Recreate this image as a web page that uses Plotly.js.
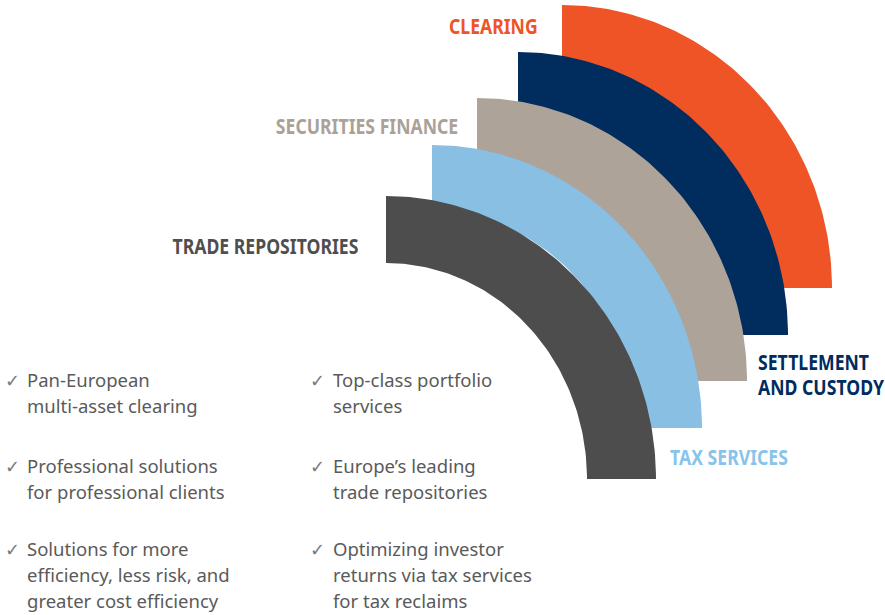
<!DOCTYPE html>
<html>
<head>
<meta charset="utf-8">
<script src="https://cdn.plot.ly/plotly-3.0.1.min.js"></script>
<style>
html,body{margin:0;padding:0;background:#fff;}
#chart{width:885px;height:615px;}
</style>
</head>
<body>
<div id="chart"></div>
<script>
// ---- data ----
const segments = ["TRADE REPOSITORIES", "TAX SERVICES", "SECURITIES FINANCE", "SETTLEMENT AND CUSTODY", "CLEARING"];
const segmentLabelLines = [["TRADE REPOSITORIES"], ["TAX SERVICES"], ["SECURITIES FINANCE"], ["SETTLEMENT", "AND CUSTODY"], ["CLEARING"]];
const bulletsLeft = [
  ["Pan-European", "multi-asset clearing"],
  ["Professional solutions", "for professional clients"],
  ["Solutions for more", "efficiency, less risk, and", "greater cost efficiency"]
];
const bulletsRight = [
  ["Top-class portfolio", "services"],
  ["Europe\u2019s leading", "trade repositories"],
  ["Optimizing investor", "returns via tax services", "for tax reclaims"]
];

// ---- styles / layout geometry (pixel-space axes) ----
const colors = ["#4d4d4d", "#88bfe3", "#ada399", "#002c5e", "#ef5426"];
const labelColors = ["#4f4f4f", "#88c4ea", "#aba196", "#002c5e", "#ef5426"];
const centersX = [386, 432, 477, 518, 562];
const centersY = [479, 428, 381, 335, 288];
const rxOut = 270, ryOut = 283, rxIn = 201, ryIn = 216;
const labelSqueeze = 0.84;

function bandPath(cx, cy) {
  const xs = [], ys = [];
  const n = 90;
  for (let k = 0; k <= n; k++) {
    const a = Math.PI / 2 * (1 - k / n);
    xs.push(cx + rxOut * Math.cos(a));
    ys.push(cy - ryOut * Math.sin(a));
  }
  for (let k = 0; k <= n; k++) {
    const a = Math.PI / 2 * (k / n);
    xs.push(cx + rxIn * Math.cos(a));
    ys.push(cy - ryIn * Math.sin(a));
  }
  xs.push(xs[0]); ys.push(ys[0]);
  return {xs, ys};
}

const traces = [];
for (let i = segments.length - 1; i >= 0; i--) {
  const p = bandPath(centersX[i], centersY[i]);
  traces.push({
    type: "scatter", mode: "lines", x: p.xs, y: p.ys,
    fill: "toself", fillcolor: colors[i],
    line: {width: 0, color: colors[i]},
    hoverinfo: "text", text: segments[i], name: segments[i], showlegend: false
  });
}

const labelFont = "'Noto Sans', 'Open Sans', sans-serif";
const bodyFont = "'Noto Sans', 'Open Sans', sans-serif";
const annotations = [];
const labelAnchors = [];

const labelPos = [
  [361, 245.5, "right"],
  [668, 456.5, "left"],
  [460, 125.5, "right"],
  [756, 361.5, "left"],
  [540, 25.5, "right"]
];
segmentLabelLines.forEach((lines, i) => {
  lines.forEach((t, j) => {
    labelAnchors.push(labelPos[i][2]);
    annotations.push({
      xref: "x", yref: "y", x: labelPos[i][0], y: labelPos[i][1] + j * 25,
      xanchor: labelPos[i][2], yanchor: "middle", showarrow: false,
      text: "<b>" + t + "</b>",
      font: {family: labelFont, size: 21, color: labelColors[i]}
    });
  });
});
const nLabels = annotations.length;

function addBullets(list, xCheck, xText, yStarts) {
  list.forEach((lines, i) => {
    annotations.push({
      xref: "x", yref: "y", x: xCheck, y: yStarts[i] + 1, xanchor: "left", yanchor: "middle",
      showarrow: false, text: "\u2713",
      font: {family: "'DejaVu Sans', sans-serif", size: 18, color: "#7a7a7a"}
    });
    lines.forEach((t, j) => {
      annotations.push({
        xref: "x", yref: "y", x: xText, y: yStarts[i] + j * 26, xanchor: "left", yanchor: "middle",
        showarrow: false, text: t,
        font: {family: bodyFont, size: 18.5, color: "#5a5a5a"}
      });
    });
  });
}
addBullets(bulletsLeft, 3, 25, [379, 465, 548]);
addBullets(bulletsRight, 308, 331, [379, 465, 548]);

const layout = {
  width: 885, height: 615,
  margin: {l: 0, r: 0, t: 0, b: 0},
  paper_bgcolor: "#ffffff", plot_bgcolor: "#ffffff",
  xaxis: {range: [0, 885], visible: false, fixedrange: true},
  yaxis: {range: [615, 0], visible: false, fixedrange: true},
  showlegend: false,
  annotations: annotations
};

Plotly.newPlot("chart", traces, layout, {displayModeBar: false, staticPlot: true}).then(function (gd) {
  // condense the bold segment labels horizontally (condensed typeface look)
  gd.querySelectorAll("g.annotation").forEach(function (g) {
    const idx = +g.getAttribute("data-index");
    if (idx >= nLabels) return;
    const txt = g.querySelector("text.annotation-text");
    if (!txt) return;
    const bb = txt.getBBox();
    const ax = labelAnchors[idx] === "right" ? bb.x + bb.width : bb.x;
    txt.setAttribute("transform", "translate(" + ax + ",0) scale(" + labelSqueeze + ",1) translate(" + (-ax) + ",0)");
  });
});
</script>
</body>
</html>
